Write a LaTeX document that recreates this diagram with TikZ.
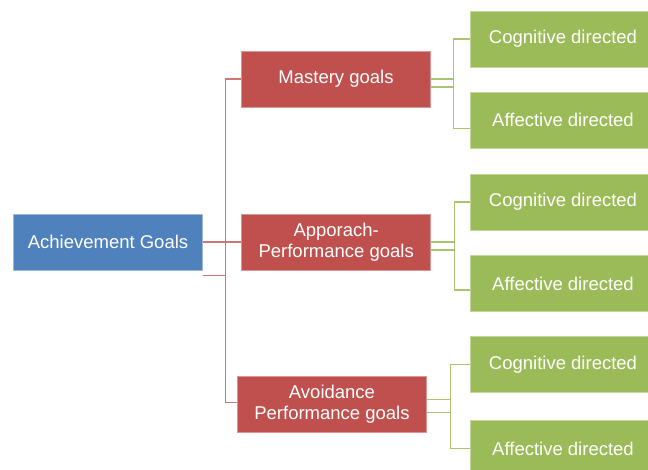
\documentclass[tikz,border=0pt]{standalone}
\usepackage{fontspec}
\setmainfont{Liberation Sans}
\definecolor{cblue}{HTML}{4F81BD}
\definecolor{cred}{HTML}{C0504D}
\definecolor{cgreen}{HTML}{9BBB59}
\begin{document}
\begin{tikzpicture}[x=1pt,y=-1pt,
  box/.style={rectangle, inner sep=0pt, minimum height=56pt, text=white, align=center,
    font=\fontsize{18.5}{21}\selectfont, line width=0.6pt},
  bluebox/.style={box, fill=cblue, draw=cblue!55!white, minimum width=189pt},
  redbox/.style={box, fill=cred, draw=cred!60!white, minimum width=189pt},
  greenbox/.style={box, fill=cgreen, draw=cgreen!60!white, minimum width=186pt},
  redline/.style={draw=cred!78!white, line width=1.2pt},
  greenline/.style={draw=cgreen!85!white, line width=1.2pt}]
\useasboundingbox (0,0) rectangle (648,469);
\node[bluebox] (A) at (108,242) {Achievement Goals};
\node[redbox] (M) at (336,79) {Mastery goals};
\node[redbox] (P) at (336.2,242) {Apporach-\\Performance goals};
\node[redbox] (V) at (332,404.7) {Avoidance\\Performance goals};
\node[greenbox] (G1) at (563,39) {Cognitive directed};
\node[greenbox] (G2) at (563,120) {Affective directed};
\node[greenbox] (G3) at (563,202) {Cognitive directed};
\node[greenbox] (G4) at (563,283.5) {Affective directed};
\node[greenbox] (G5) at (563,364.5) {Cognitive directed};
\node[greenbox] (G6) at (563,448.5) {Affective directed};
% red connectors
\draw[redline] ([yshift=-5pt]A.south east) -- ++(23,0) |- (M.west);
\draw[redline] (A.east) -- (P.west);
\draw[redline] ([yshift=-5pt]A.south east) -- ++(23,0) |- ([yshift=2.4pt]V.west);
% green connectors
\draw[greenline] ([yshift=-8pt]M.east) -- ++(23,0) |- (G1.west);
\draw[greenline] (M.east) -- ++(23,0) |- ([yshift=-8.5pt]G2.west);
\draw[greenline] ([yshift=-8pt]P.east) -- ++(23.3,0) |- (G3.west);
\draw[greenline] (P.east) -- ++(23.3,0) |- ([yshift=-6.5pt]G4.west);
\draw[greenline] ([yshift=-7.6pt]V.east) -- ++(23.3,0) |- (G5.west);
\draw[greenline] ([yshift=5.4pt]V.east) -- ++(23.3,0) |- (G6.west);
\end{tikzpicture}
\end{document}
